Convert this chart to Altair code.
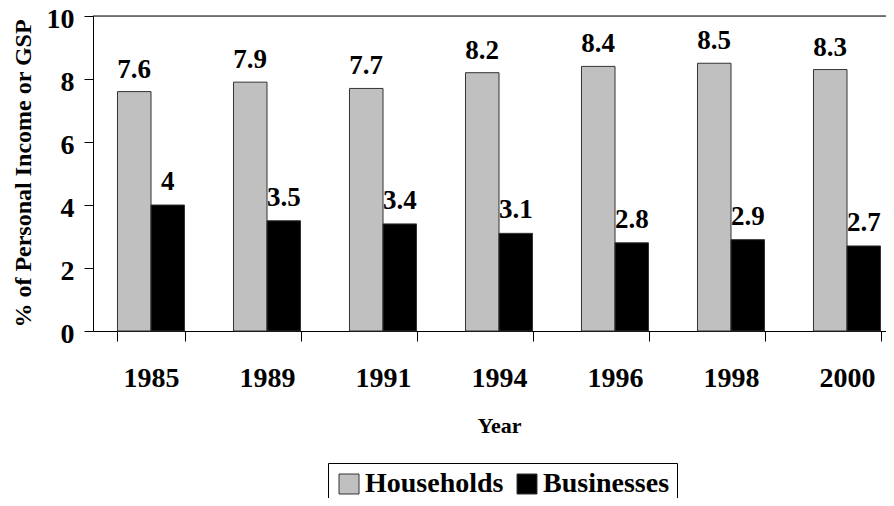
import altair as alt
import pandas as pd

years = ["1985", "1989", "1991", "1994", "1996", "1998", "2000"]
households = [7.6, 7.9, 7.7, 8.2, 8.4, 8.5, 8.3]
businesses = [4, 3.5, 3.4, 3.1, 2.8, 2.9, 2.7]
series = ["Households", "Businesses"]
colors = ["#c0c0c0", "#000000"]

rows = []
for y, h, b in zip(years, households, businesses):
    rows.append({"Year": y, "Series": "Households", "Value": h, "Label": f"{h:g}"})
    rows.append({"Year": y, "Series": "Businesses", "Value": b, "Label": f"{b:g}"})
df = pd.DataFrame(rows)

FONT = "'Liberation Serif', 'Times New Roman', Tinos, Times, serif"

x_enc = alt.X(
    "Year:N",
    sort=years,
    scale=alt.Scale(range=[0, 812], paddingInner=0.4224, paddingOuter=0.2112),
    axis=alt.Axis(
        title="Year",
        labelAngle=0,
        labelFont=FONT, labelFontSize=28, labelFontWeight="bold", labelColor="black",
        labelPadding=23,
        tickBand="extent", tickSize=10, tickColor="black", domainColor="black",
        titleFont=FONT, titleFontSize=22, titleFontWeight="bold", titleColor="black",
        titleX=406, titleY=101, titleBaseline="alphabetic",
    ),
)
y_enc = alt.Y(
    "Value:Q",
    scale=alt.Scale(domain=[0, 10]),
    axis=alt.Axis(
        title="% of Personal Income or GSP",
        values=[0, 2, 4, 6, 8, 10], grid=False,
        labelFont=FONT, labelFontSize=28, labelFontWeight="bold", labelColor="black",
        labelPadding=10, labelOffset=3, tickSize=9, tickColor="black", domainColor="black",
        titleFont=FONT, titleFontSize=24, titleFontWeight="bold", titleColor="black",
        titleAngle=270, titleX=-70, titleY=157, titleBaseline="middle",
    ),
)
xoff = alt.XOffset("Series:N", sort=series,
                   scale=alt.Scale(domain=series, paddingInner=0, paddingOuter=0))
color = alt.Color(
    "Series:N",
    sort=series,
    scale=alt.Scale(domain=series, range=colors),
    legend=alt.Legend(
        title=None, orient="none", direction="horizontal",
        legendX=235, legendY=447,
        symbolType="square", symbolSize=400, symbolStrokeColor="#333333",
        symbolStrokeWidth=1, symbolOpacity=1,
        labelFont=FONT, labelFontSize=28, labelFontWeight="bold", labelColor="black",
        labelOffset=2, columnPadding=9, padding=7,
        strokeColor="black", fillColor="white",
    ),
)

base = alt.Chart(df)

bus_text = base.transform_filter(alt.datum.Series == "Businesses").mark_text(
    font=FONT, fontSize=27, fontWeight="bold", color="black",
    baseline="alphabetic", dy=-15,
).encode(x=x_enc, xOffset=xoff, y=y_enc, text="Label:N")

bars = base.mark_bar(stroke="#333333", strokeWidth=1).encode(
    x=x_enc, xOffset=xoff, y=y_enc, color=color
)

hh_text = base.transform_filter(alt.datum.Series == "Households").mark_text(
    font=FONT, fontSize=27, fontWeight="bold", color="black",
    baseline="alphabetic", dy=-14,
).encode(x=x_enc, xOffset=xoff, y=y_enc, text="Label:N")

top_rule = alt.Chart(pd.DataFrame({"t": [10]})).mark_rule(color="black", strokeWidth=1).encode(
    y=alt.Y("t:Q"), x=alt.value(0), x2=alt.value(812)
)

chart = alt.layer(bus_text, bars, hh_text, top_rule).properties(
    width=793, height=315,
    padding={"left": 85, "top": 8, "right": 0, "bottom": 167},
    autosize=alt.AutoSizeParams(type="none"),
).configure_view(strokeWidth=0).configure(font=FONT)

chart.save("out.html", embed_options={"renderer": "svg", "actions": False})
